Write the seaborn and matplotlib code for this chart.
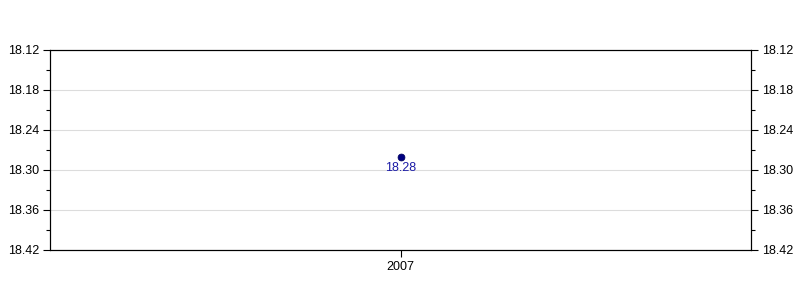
import matplotlib
matplotlib.use("Agg")
import matplotlib.pyplot as plt
import seaborn as sns
import pandas as pd
from matplotlib.ticker import MultipleLocator

years = ["2007"]
values = [18.28]
y_ticks = [18.12, 18.18, 18.24, 18.30, 18.36, 18.42]

sns.set_style("white")
plt.rcParams['font.family'] = ['Liberation Sans', 'DejaVu Sans']

df = pd.DataFrame({"year": years, "value": values})

fig = plt.figure(figsize=(8, 3), dpi=100)
ax = fig.add_axes([50/800, 50/300, 701/800, 200/300])

sns.scatterplot(data=df, x="year", y="value", ax=ax, s=24, color="#000080",
                edgecolor="#000060", linewidth=0.6, zorder=5, legend=False)

for i, (yr, v) in enumerate(zip(years, values)):
    ax.annotate(f"{v:.2f}", (i, v), xytext=(0, -3.5), textcoords="offset points",
                ha="center", va="top", fontsize=9, color="#1a1aa6")

ax.set_xlim(-0.5, 0.5)
ax.set_ylim(y_ticks[-1], y_ticks[0])
ax.set_yticks(y_ticks)
ax.set_yticklabels([f"{t:.2f}" for t in y_ticks])
ax.yaxis.set_minor_locator(MultipleLocator(0.03))
ax.grid(axis="y", which="major", color="#dcdcdc", linewidth=0.8)
ax.set_axisbelow(True)
ax.set_xlabel("")
ax.set_ylabel("")

for s in ax.spines.values():
    s.set_color("black")
    s.set_linewidth(0.8)

ax.tick_params(axis="both", which="major", direction="out", length=5, width=0.8,
               color="black", labelsize=9, labelcolor="black", left=True, bottom=True, pad=3)
ax.tick_params(axis="y", which="minor", direction="out", length=3, width=0.8,
               color="black", left=True)

ax2 = ax.twinx()
ax2.set_ylim(y_ticks[-1], y_ticks[0])
ax2.set_yticks(y_ticks)
ax2.set_yticklabels([f"{t:.2f}" for t in y_ticks])
ax2.yaxis.set_minor_locator(MultipleLocator(0.03))
ax2.tick_params(axis="y", which="major", direction="out", length=5, width=0.8,
                color="black", labelsize=9, labelcolor="black", right=True, pad=3)
ax2.tick_params(axis="y", which="minor", direction="out", length=3, width=0.8,
                color="black", right=True)
for s in ax2.spines.values():
    s.set_color("black")
    s.set_linewidth(0.8)

fig.savefig("out.png", dpi=100)
